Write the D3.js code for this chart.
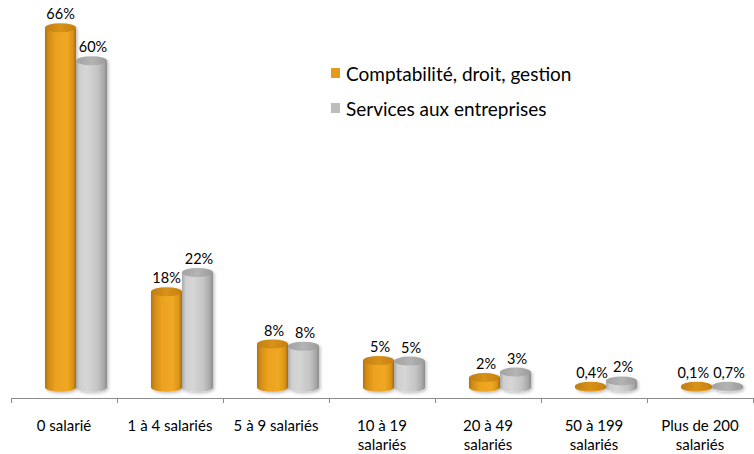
<!DOCTYPE html>
<html>
<head>
<meta charset="utf-8">
<script src="https://cdn.jsdelivr.net/npm/d3@7"></script>
<style>
  body { margin: 0; background: #fff; }
  svg text { font-family: Lato, "Open Sans", sans-serif; fill: #000; }
</style>
</head>
<body>
<svg width="754" height="454"></svg>
<script>

// categories (split into lines for the axis labels)
let categories = [
    ["0 salarié"],
    ["1 à 4 salariés"],
    ["5 à 9 salariés"],
    ["10 à 19", "salariés"],
    ["20 à 49", "salariés"],
    ["50 à 199", "salariés"],
    ["Plus de 200", "salariés"]
]

let seriesNames = ["Comptabilité, droit, gestion", "Services aux entreprises"]

// values
let compta = [66, 18, 8.5, 5.5, 2.4, 0.4, 0.1]
let services = [60, 21.5, 8.1, 5.4, 3.4, 1.8, 0.7]

// labels as printed on the chart
let comptaLabels = ["66%", "18%", "8%", "5%", "2%", "0,4%", "0,1%"]
let servicesLabels = ["60%", "22%", "8%", "5%", "3%", "2%", "0,7%"]


let svg = d3.select("svg")

let x0 = d3.scaleBand()
    .domain(d3.range(categories.length))
    .range([11, 753])

let x1 = d3.scaleBand()
    .domain([0, 1])
    .range([34, 96])

let y = d3.scaleLinear()
    .domain([0, 66])
    .range([390.8, 27.8])

let base = 387.2
let ry = 4.5

// gradients
let defs = svg.append("defs")

function hGradient(id, stops){
    let g = defs.append("linearGradient")
        .attr("id", id)
        .attr("x1", "0%").attr("x2", "100%")
        .attr("y1", "0%").attr("y2", "0%")
    for(let s of stops){
        g.append("stop").attr("offset", s[0]).attr("stop-color", s[1])
    }
}

hGradient("orangeBody", [["0%", "#b27310"], ["12%", "#d38d15"], ["35%", "#eca21f"], ["70%", "#f0a824"], ["90%", "#d99418"], ["100%", "#a86c0e"]])
hGradient("orangeTop", [["0%", "#c07e12"], ["50%", "#d8921a"], ["100%", "#c4800f"]])
hGradient("grayBody", [["0%", "#a9a9a9"], ["12%", "#cfcfcf"], ["35%", "#d6d6d6"], ["70%", "#c4c4c4"], ["90%", "#a8a8a8"], ["100%", "#8c8c8c"]])
hGradient("grayTop", [["0%", "#a2a2a2"], ["50%", "#b4b4b4"], ["100%", "#9a9a9a"]])

let shadow = defs.append("filter").attr("id", "shadow")
    .attr("x", "-20%").attr("y", "-20%").attr("width", "150%").attr("height", "150%")
shadow.append("feDropShadow")
    .attr("dx", 1.5).attr("dy", 1.5)
    .attr("stdDeviation", 1.5)
    .attr("flood-color", "#000")
    .attr("flood-opacity", 0.25)


// axis with ticks at the category boundaries
let xb = d3.scaleLinear()
    .domain([0, categories.length])
    .range([11, 753])

let axis = svg.append("g")
    .attr("transform", "translate(0,398)")
    .call(d3.axisBottom(xb)
        .tickValues(d3.range(categories.length + 1))
        .tickFormat("")
        .tickSize(5)
        .tickSizeOuter(0))

axis.select(".domain").attr("stroke", "#8c8c8c")
axis.selectAll(".tick line").attr("stroke", "#8c8c8c")


// cylinders
let series = [
    {values: compta, labels: comptaLabels, body: "url(#orangeBody)", top: "url(#orangeTop)"},
    {values: services, labels: servicesLabels, body: "url(#grayBody)", top: "url(#grayTop)"}
]

let groups = svg.selectAll("g.cat")
    .data(categories)
    .enter()
    .append("g")
    .attr("class", "cat")
    .attr("transform", (d, i) => "translate(" + x0(i) + ",0)")

series.forEach(function(s, si){
    let w = x1.bandwidth()
    let left = x1(si)
    let rx = w / 2

    let bars = groups.append("g")
        .attr("class", "bar")
        .attr("filter", "url(#shadow)")

    bars.append("path")
        .attr("d", (d, i) => {
            let top = Math.min(y(s.values[i]), base - 1)
            return "M" + left + "," + top +
                "L" + left + "," + base +
                "A" + rx + "," + ry + " 0 0 0 " + (left + w) + "," + base +
                "L" + (left + w) + "," + top + "Z"
        })
        .attr("fill", s.body)

    bars.append("ellipse")
        .attr("cx", left + rx)
        .attr("cy", (d, i) => Math.min(y(s.values[i]), base - 1))
        .attr("rx", rx)
        .attr("ry", ry)
        .attr("fill", s.top)

    groups.append("text")
        .attr("class", "val val-" + si)
        .attr("x", left + rx + 1.5)
        .attr("y", (d, i) => Math.min(y(s.values[i]), base - 1) - ry - 4)
        .attr("text-anchor", "middle")
        .style("font-size", "14.5px")
        .text((d, i) => s.labels[i])
})

// push the first label left when the two labels of a category touch
groups.each(function(){
    let a = d3.select(this).select(".val-0")
    let b = d3.select(this).select(".val-1")
    let ba = a.node().getBBox()
    let bb = b.node().getBBox()
    let overlap = ba.x + ba.width + 4 - bb.x
    if(overlap > 0){
        a.attr("x", +a.attr("x") - overlap)
    }
})


// category labels
let catLabels = svg.selectAll("text.cat-label")
    .data(categories)
    .enter()
    .append("text")
    .attr("class", "cat-label")
    .attr("x", (d, i) => x0(i) + x0.bandwidth() / 2)
    .attr("y", 431)
    .attr("text-anchor", "middle")
    .style("font-size", "15px")

catLabels.selectAll("tspan")
    .data(d => d)
    .enter()
    .append("tspan")
    .attr("x", function(){ return this.parentNode.getAttribute("x") })
    .attr("dy", (d, i) => i == 0 ? 0 : 19)
    .text(d => d)


// legend
let legendColors = ["#e49a1c", "#bdbdbd"]

let legend = svg.selectAll("g.legend")
    .data(seriesNames)
    .enter()
    .append("g")
    .attr("class", "legend")
    .attr("transform", (d, i) => "translate(331," + (68 + i * 35) + ")")

legend.append("rect")
    .attr("width", 9)
    .attr("height", 10)
    .attr("fill", (d, i) => legendColors[i])

legend.append("text")
    .attr("x", 15)
    .attr("y", 12.5)
    .style("font-size", "19px")
    .text(d => d)

</script>
</body>
</html>
